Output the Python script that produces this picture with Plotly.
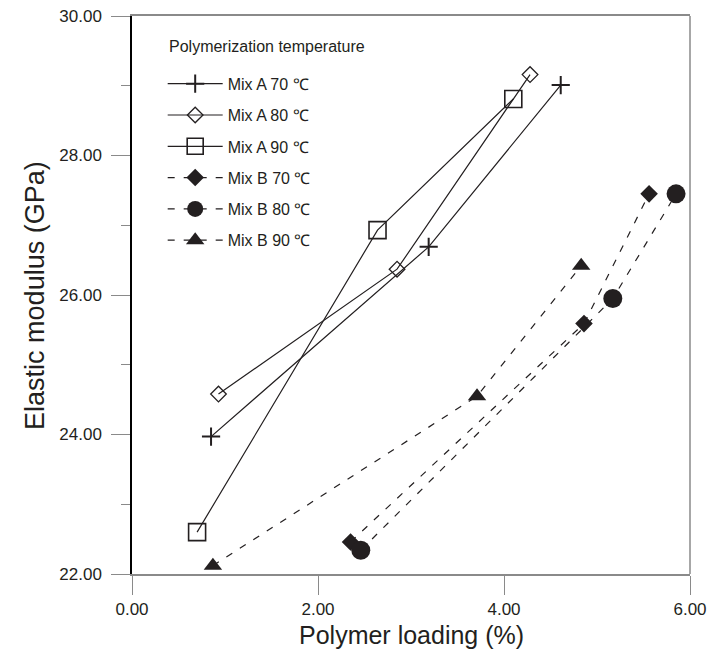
import plotly.graph_objects as go

# ---- data ----
x_a70 = [0.85, 3.19, 4.61]
y_a70 = [23.97, 26.69, 29.01]
x_a80 = [0.93, 2.85, 4.28]
y_a80 = [24.58, 26.37, 29.16]
x_a90 = [0.70, 2.64, 4.10]
y_a90 = [22.60, 26.93, 28.81]
x_b70 = [2.35, 4.86, 5.56]
y_b70 = [22.46, 25.59, 27.45]
x_b80 = [2.46, 5.17, 5.85]
y_b80 = [22.34, 25.95, 27.45]
x_b90 = [0.87, 3.71, 4.83]
y_b90 = [22.12, 24.55, 26.42]

series_names = ["Mix A 70 ℃", "Mix A 80 ℃", "Mix A 90 ℃",
                "Mix B 70 ℃", "Mix B 80 ℃", "Mix B 90 ℃"]

x_tickvals = [0, 2, 4, 6]
x_ticktext = ["0.00", "2.00", "4.00", "6.00"]
y_tickvals = [22, 24, 26, 28, 30]
y_ticktext = ["22.00", "24.00", "26.00", "28.00", "30.00"]

INK = "#231f20"
GREY = "#8a8a8a"
FONT = "Liberation Sans, Arial, Helvetica, sans-serif"

fig = go.Figure()

def add(xs, ys, name, symbol, size, dash, lw_marker=1.5):
    fig.add_trace(go.Scatter(
        x=xs, y=ys, name=name, mode="lines+markers",
        line=dict(color=INK, width=1.2, dash=dash),
        marker=dict(symbol=symbol, size=size, color=INK,
                    line=dict(color=INK, width=lw_marker)),
        cliponaxis=False, legendgroup=name,
    ))

add(x_a70, y_a70, series_names[0], "cross-thin", 13, "solid", 2)
add(x_a80, y_a80, series_names[1], "diamond-open", 12, "solid", 1.3)
add(x_a90, y_a90, series_names[2], "square-open", 17, "solid", 1.6)
add(x_b70, y_b70, series_names[3], "diamond", 13.5, "7px,9px", 0)
add(x_b80, y_b80, series_names[4], "circle", 19, "7px,9px", 0)
add(x_b90, y_b90, series_names[5], "triangle-up", 16, "7px,9px", 0)

fig.update_layout(
    width=708, height=655,
    margin=dict(l=132, r=18, t=16, b=81, autoexpand=False),
    paper_bgcolor="white", plot_bgcolor="white",
    font=dict(family=FONT, color=INK, size=16),
    showlegend=True,
    legend=dict(
        x=0.055, y=0.909, xanchor="left", yanchor="top",
        bgcolor="rgba(0,0,0,0)", borderwidth=0,
        font=dict(size=16, family=FONT, color=INK),
        itemwidth=55, tracegroupgap=7.5,
        itemclick=False,
    ),
    xaxis=dict(
        range=[0, 6], tickvals=x_tickvals, ticktext=x_ticktext,
        ticks="outside", ticklen=19, tickcolor=GREY, tickwidth=1,
        showgrid=False, zeroline=False, automargin=False,
        showline=True, linecolor=GREY, linewidth=1.5, mirror=True,
        tickfont=dict(size=17, family=FONT, color=INK),
    ),
    yaxis=dict(
        range=[22, 30], tickvals=y_tickvals, ticktext=y_ticktext,
        ticks="outside", ticklen=19, tickcolor=GREY, tickwidth=1,
        minor=dict(dtick=1, ticks="outside", ticklen=9, tickcolor=GREY, tickwidth=1),
        showgrid=False, zeroline=False, automargin=False,
        showline=True, linecolor="black", linewidth=1.5,
        tickfont=dict(size=17, family=FONT, color=INK),
        ticklabelstandoff=6,
    ),
    shapes=[dict(type="line", xref="paper", yref="paper", x0=1, x1=1, y0=0, y1=1,
                 line=dict(color=GREY, width=1.5))],
    annotations=[
        dict(text="Polymerization temperature", xref="paper", yref="paper",
             x=0.0622, y=0.9445, xanchor="left", yanchor="middle", showarrow=False,
             font=dict(size=16, family=FONT, color=INK)),
        dict(text="Polymer loading (%)", xref="paper", yref="paper", x=0.5, y=-0.109,
             xanchor="center", yanchor="middle", showarrow=False,
             font=dict(size=25, family=FONT, color=INK)),
        dict(text="Elastic modulus (GPa)", xref="paper", yref="paper", x=-0.174, y=0.5,
             xanchor="center", yanchor="middle", showarrow=False, textangle=-90,
             font=dict(size=27, family=FONT, color=INK)),
    ],
)

fig.write_html("out.html", config={"displayModeBar": False},
               post_script="document.body.style.margin='0px';")
